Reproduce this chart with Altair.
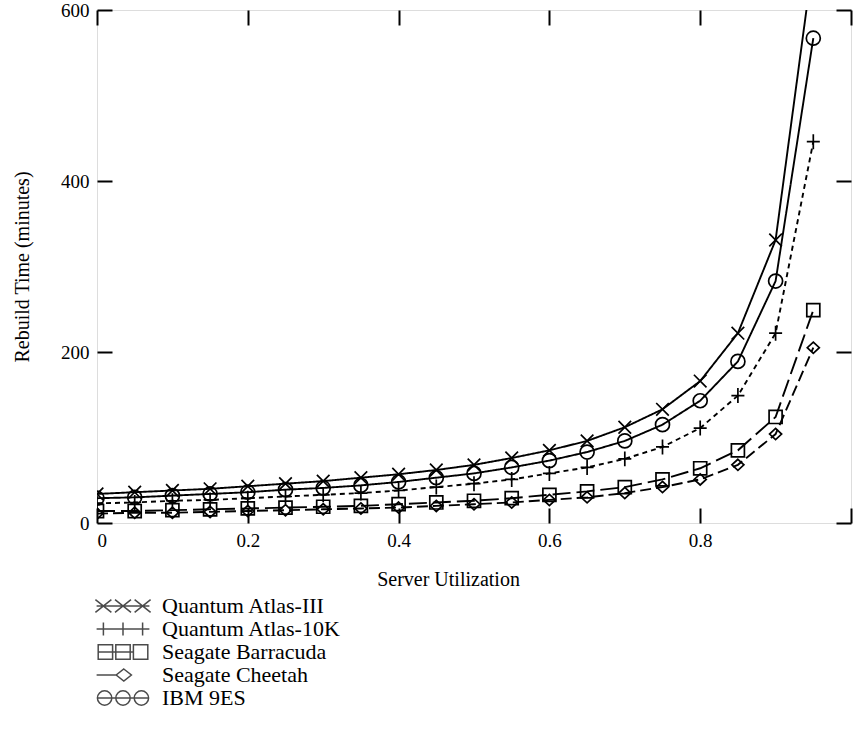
import altair as alt
import pandas as pd

# ---- data ----
utilization = [0.0, 0.05, 0.1, 0.15, 0.2, 0.25, 0.3, 0.35, 0.4, 0.45,
               0.5, 0.55, 0.6, 0.65, 0.7, 0.75, 0.8, 0.85, 0.9, 0.95]
atlas3 = [34, 36, 38, 40, 43, 46, 49, 53, 57, 62, 68, 76, 85, 96, 112, 133, 166, 222, 331, 660]
atlas10k = [23, 24, 26, 27, 29, 31, 33, 35, 38, 42, 46, 51, 58, 65, 75, 89, 111, 149, 222, 446]
barracuda = [14, 14, 15, 16, 17, 18, 19, 20, 22, 24, 26, 29, 33, 37, 42, 51, 64, 85, 124, 249]
cheetah = [11, 12, 12, 13, 14, 15, 16, 17, 18, 20, 22, 24, 27, 30, 35, 42, 51, 68, 104, 205]
ibm9es = [29, 30, 32, 34, 36, 39, 41, 44, 48, 53, 58, 65, 73, 83, 96, 115, 143, 189, 283, 567]

series_names = ["Quantum Atlas-III", "Quantum Atlas-10K", "Seagate Barracuda",
                "Seagate Cheetah", "IBM 9ES"]
series_values = [atlas3, atlas10k, barracuda, cheetah, ibm9es]

x_tick_values = [0, 0.2, 0.4, 0.6, 0.8]
x_minor_ticks = [0, 0.2, 0.4, 0.6, 0.8, 1.0]
y_tick_values = [0, 200, 400, 600]

rows = []
for name, vals in zip(series_names, series_values):
    for u, v in zip(utilization, vals):
        rows.append({"util": u, "time": v, "disk": name})
df = pd.DataFrame(rows)

# ---- styles ----
W, H = 754, 513
FONT = "Liberation Serif"
dashes = [[1, 0], [5, 4], [18, 6], [11, 5], [1, 0]]

marker_paths = [
    "M-0.9,-0.9L0.9,0.9M-0.9,0.9L0.9,-0.9",
    "M-0.93,0L0.93,0M0,-1.07L0,1.07",
    "M-0.93,-0.93L0.93,-0.93L0.93,0.93L-0.93,0.93Z",
    "M0,-0.8L0.86,0L0,0.8L-0.86,0Z",
    "M-1,0A1,1 0 1,0 1,0A1,1 0 1,0 -1,0Z",
]


def seg(x0, x1):
    return f"M{x0},0L{x1},0"


def xmark(cx, hw=1.0, hh=0.8):
    return f"M{cx-hw},{-hh}L{cx+hw},{hh}M{cx-hw},{hh}L{cx+hw},{-hh}"


def pmark(cx, hh=0.8):
    return f"M{cx},{-hh}L{cx},{hh}"


def sq(cx, h=0.9):
    return f"M{cx-h},{-h}L{cx+h},{-h}L{cx+h},{h}L{cx-h},{h}Z"


def circ(cx, r=0.9):
    return f"M{cx-r},0A{r},{r} 0 1,0 {cx+r},0A{r},{r} 0 1,0 {cx-r},0Z"


centers = [-2.45, 0, 2.45]
legend_paths = [
    seg(-3.3, 3.3) + "".join(xmark(c) for c in centers),
    seg(-3.3, 3.3) + "".join(pmark(c) for c in centers),
    seg(-3.1, 1.3) + "".join(sq(c) for c in [-2.2, 0, 2.2]),
    seg(-3.3, -0.85) + "M0.1,-0.75L1.05,0L0.1,0.75L-0.85,0Z",
    seg(-3.2, 3.2) + "".join(circ(c) for c in [-2.3, 0, 2.3]),
]

x_scale = alt.Scale(domain=[0, 1], nice=False, zero=False)
y_scale = alt.Scale(domain=[0, 600], nice=False)

tick_style = dict(labels=False, ticks=True, tickSize=15, tickWidth=2, tickColor="black",
                  domain=False, grid=False, title=None)

base = alt.Chart(df)

lines = base.mark_line(clip=True, color="black", strokeWidth=1.9).encode(
    x=alt.X("util:Q", scale=x_scale, axis=alt.Axis(
        orient="bottom", values=x_tick_values, format="~g", ticks=False, tickSize=0,
        domain=False, grid=False, labelFont=FONT, labelFontSize=19, labelColor="black",
        labelPadding=8, title="Server Utilization", titleFont=FONT, titleFontSize=20,
        titleFontWeight="normal", titleColor="black", titlePadding=19, titleX=351)),
    y=alt.Y("time:Q", scale=y_scale, axis=alt.Axis(
        orient="left", values=y_tick_values, ticks=False, tickSize=0, domain=False,
        grid=False, labelFont=FONT, labelFontSize=19, labelColor="black", labelPadding=8,
        title="Rebuild Time (minutes)", titleFont=FONT, titleFontSize=20,
        titleFontWeight="normal", titleColor="black", titlePadding=28)),
    strokeDash=alt.StrokeDash("disk:N", scale=alt.Scale(domain=series_names, range=dashes),
                              legend=None),
)

points = base.mark_point(clip=True, filled=False, color="black", strokeWidth=1.7,
                         size=196, opacity=1).encode(
    x=alt.X("util:Q", scale=x_scale,
            axis=alt.Axis(orient="top", offset=-H, values=x_minor_ticks, **tick_style)),
    y=alt.Y("time:Q", scale=y_scale,
            axis=alt.Axis(orient="right", offset=-W, values=y_tick_values, **tick_style)),
    shape=alt.Shape("disk:N", scale=alt.Scale(domain=series_names, range=marker_paths),
                    legend=None),
)

legend_layer = base.transform_filter("false").mark_point(
    filled=False, color="black", strokeWidth=1.5, size=256).encode(
    x=alt.X("util:Q", scale=x_scale,
            axis=alt.Axis(orient="bottom", offset=-H, values=x_minor_ticks, **tick_style)),
    y=alt.Y("time:Q", scale=y_scale,
            axis=alt.Axis(orient="left", offset=-W, values=y_tick_values, **tick_style)),
    shape=alt.Shape("disk:N", scale=alt.Scale(domain=series_names, range=legend_paths),
                    legend=alt.Legend(title=None, orient="none", legendX=15, legendY=585,
                                      padding=0, labelFont=FONT, labelFontSize=22,
                                      labelColor="black", labelOffset=28, labelLimit=0,
                                      rowPadding=1, symbolSize=256, symbolStrokeWidth=1.5,
                                      symbolStrokeColor="black")),
)

chart = alt.layer(lines, points, legend_layer).resolve_scale(
    shape="independent"
).resolve_axis(
    x="independent", y="independent"
).properties(
    width=W, height=H, autosize="none",
    padding={"left": 97, "top": 10, "right": 2, "bottom": 219},
).configure_view(
    stroke="black", strokeWidth=2.5
).configure(background="white")

chart.save("out.html", embed_options={"renderer": "svg", "actions": False})
